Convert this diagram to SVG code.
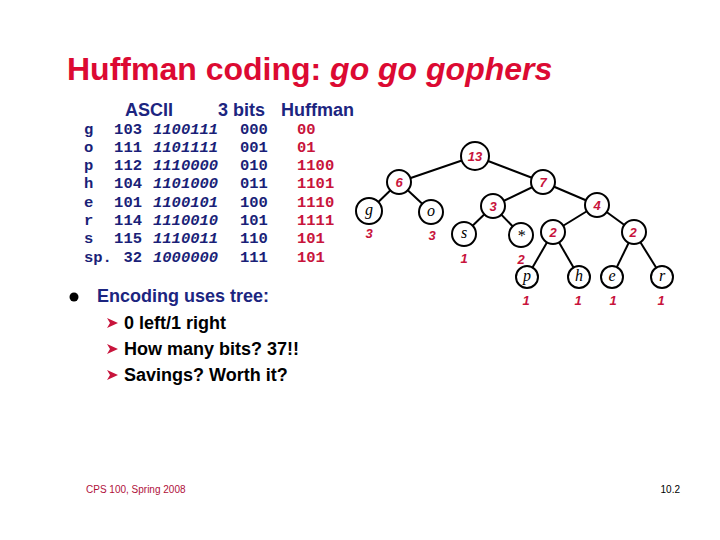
<svg xmlns="http://www.w3.org/2000/svg" width="720" height="540" viewBox="0 0 720 540">
<style>
.title{font-family:"Liberation Sans",Arial,sans-serif;font-size:32px;font-weight:bold;fill:#dc0a32}
.hdr{font-family:"Liberation Sans",Arial,sans-serif;font-size:18px;font-weight:bold;fill:#1c2580}
.tb{font-family:"Liberation Mono","Courier New",monospace;font-size:15.5px;font-weight:bold;fill:#1a1f78}
.it{font-style:italic}
.hf{fill:#c8143c}
.b1{font-family:"Liberation Sans",Arial,sans-serif;font-size:18px;font-weight:bold;fill:#1c2580}
.b2{font-family:"Liberation Sans",Arial,sans-serif;font-size:18px;font-weight:bold;fill:#000}
.foot{font-family:"Liberation Sans",Arial,sans-serif;font-size:10px}
.edge{stroke:#000;stroke-width:2;fill:none}
.nd{fill:#fff;stroke:#000;stroke-width:2}
.num{font-family:"Liberation Sans",Arial,sans-serif;font-size:13px;font-weight:bold;font-style:italic;fill:#c8143c;text-anchor:middle}
.lf{font-family:"Liberation Serif","Times New Roman",serif;font-size:16px;font-style:italic;fill:#000;text-anchor:middle}
.arw{fill:#c8143c}
</style>
<rect width="720" height="540" fill="#fff"/>
<text class="title" x="67" y="80">Huffman coding: <tspan font-style="italic">go go gophers</tspan></text>
<g id="table">
<text class="hdr" x="125" y="116">ASCII</text>
<text class="hdr" x="218" y="116">3 bits</text>
<text class="hdr" x="281" y="116">Huffman</text>
<g class="tb">
<text x="84" y="134">g</text><text x="142" y="134" text-anchor="end">103</text><text class="it" x="153" y="134">1100111</text><text x="240" y="134">000</text><text class="hf" x="297" y="134">00</text>
<text x="84" y="152">o</text><text x="142" y="152" text-anchor="end">111</text><text class="it" x="153" y="152">1101111</text><text x="240" y="152">001</text><text class="hf" x="297" y="152">01</text>
<text x="84" y="170">p</text><text x="142" y="170" text-anchor="end">112</text><text class="it" x="153" y="170">1110000</text><text x="240" y="170">010</text><text class="hf" x="297" y="170">1100</text>
<text x="84" y="188">h</text><text x="142" y="188" text-anchor="end">104</text><text class="it" x="153" y="188">1101000</text><text x="240" y="188">011</text><text class="hf" x="297" y="188">1101</text>
<text x="84" y="207">e</text><text x="142" y="207" text-anchor="end">101</text><text class="it" x="153" y="207">1100101</text><text x="240" y="207">100</text><text class="hf" x="297" y="207">1110</text>
<text x="84" y="225">r</text><text x="142" y="225" text-anchor="end">114</text><text class="it" x="153" y="225">1110010</text><text x="240" y="225">101</text><text class="hf" x="297" y="225">1111</text>
<text x="84" y="243">s</text><text x="142" y="243" text-anchor="end">115</text><text class="it" x="153" y="243">1110011</text><text x="240" y="243">110</text><text class="hf" x="297" y="243">101</text>
<text x="84" y="262">sp.</text><text x="142" y="262" text-anchor="end">32</text><text class="it" x="153" y="262">1000000</text><text x="240" y="262">111</text><text class="hf" x="297" y="262">101</text>
</g>
</g>
<g id="bullets">
<circle cx="74" cy="297" r="4.5" fill="#000"/>
<text class="b1" x="97" y="302">Encoding uses tree:</text>
<polygon class="arw" points="107,318 118,323 107,328 110,323"/>
<text class="b2" x="124" y="329">0 left/1 right</text>
<polygon class="arw" points="107,344 118,349 107,354 110,349"/>
<text class="b2" x="124" y="355">How many bits? 37!!</text>
<polygon class="arw" points="107,370 118,375 107,380 110,375"/>
<text class="b2" x="124" y="381">Savings? Worth it?</text>
</g>
<g id="connectors">
<line class="edge" x1="475" y1="156" x2="399" y2="182"/>
<line class="edge" x1="475" y1="156" x2="543" y2="182"/>
<line class="edge" x1="399" y1="182" x2="369" y2="211"/>
<line class="edge" x1="399" y1="182" x2="431" y2="212"/>
<line class="edge" x1="543" y1="182" x2="493" y2="206"/>
<line class="edge" x1="543" y1="182" x2="597" y2="205"/>
<line class="edge" x1="493" y1="206" x2="464" y2="234"/>
<line class="edge" x1="493" y1="206" x2="521" y2="235"/>
<line class="edge" x1="597" y1="205" x2="553" y2="232"/>
<line class="edge" x1="597" y1="205" x2="634" y2="232"/>
<line class="edge" x1="553" y1="232" x2="527" y2="277"/>
<line class="edge" x1="553" y1="232" x2="579" y2="277"/>
<line class="edge" x1="634" y1="232" x2="612" y2="277"/>
<line class="edge" x1="634" y1="232" x2="662" y2="277"/>
</g>
<g id="n13"><circle class="nd" cx="475" cy="156" r="14"/><text class="num" x="475" y="161">13</text></g>
<g id="n6"><circle class="nd" cx="399" cy="182" r="12"/><text class="num" x="399" y="187">6</text></g>
<g id="n7"><circle class="nd" cx="543" cy="182" r="12"/><text class="num" x="543" y="187">7</text></g>
<g id="ng"><circle class="nd" cx="369" cy="211" r="13"/><text class="lf" x="369" y="215">g</text><text class="num" x="369" y="238">3</text></g>
<g id="no"><circle class="nd" cx="431" cy="212" r="12"/><text class="lf" x="431" y="216">o</text><text class="num" x="432" y="240">3</text></g>
<g id="n3"><circle class="nd" cx="493" cy="206" r="12"/><text class="num" x="493" y="211">3</text></g>
<g id="n4"><circle class="nd" cx="597" cy="205" r="12"/><text class="num" x="597" y="210">4</text></g>
<g id="ns"><circle class="nd" cx="464" cy="234" r="12"/><text class="lf" x="464" y="238">s</text><text class="num" x="464" y="263">1</text></g>
<g id="nstar"><circle class="nd" cx="521" cy="235" r="12"/><text class="lf" x="521" y="241">*</text><text class="num" x="521" y="264">2</text></g>
<g id="n2a"><circle class="nd" cx="553" cy="232" r="12"/><text class="num" x="553" y="237">2</text></g>
<g id="n2b"><circle class="nd" cx="634" cy="232" r="12"/><text class="num" x="633" y="237">2</text></g>
<g id="np"><circle class="nd" cx="527" cy="277" r="11"/><text class="lf" x="527" y="281">p</text><text class="num" x="526" y="305">1</text></g>
<g id="nh"><circle class="nd" cx="579" cy="277" r="11"/><text class="lf" x="579" y="281">h</text><text class="num" x="578" y="305">1</text></g>
<g id="ne"><circle class="nd" cx="612" cy="277" r="11"/><text class="lf" x="612" y="281">e</text><text class="num" x="613" y="305">1</text></g>
<g id="nr"><circle class="nd" cx="662" cy="277" r="11"/><text class="lf" x="662" y="281">r</text><text class="num" x="661" y="305">1</text></g>
<text class="foot" x="86" y="493" fill="#b0103a">CPS 100, Spring 2008</text>
<text class="foot" x="680" y="493" fill="#000" text-anchor="end">10.2</text>
</svg>
